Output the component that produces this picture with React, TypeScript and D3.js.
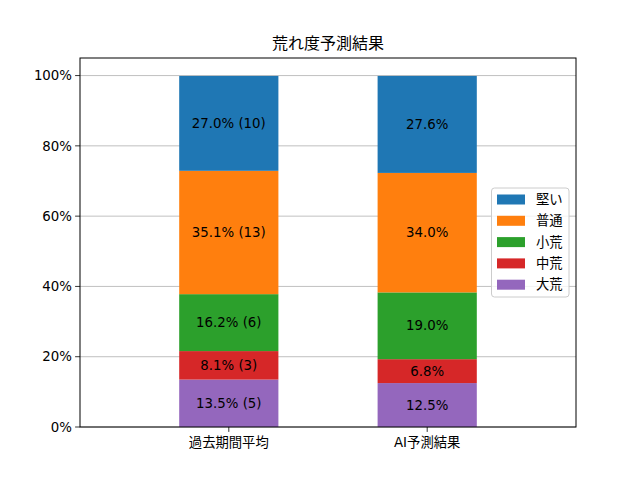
import React from 'react';
import * as d3 from 'd3';

const categories = ['過去期間平均', 'AI予測結果'];
const seriesNames = ['大荒', '中荒', '小荒', '普通', '堅い'];
const colors = ['#9467bd', '#d62728', '#2ca02c', '#ff7f0e', '#1f77b4'];
// percentage per series (bottom to top), per category
const pastPct = [13.5, 8.1, 16.2, 35.1, 27.0];
const pastCount = [5, 3, 6, 13, 10];
const aiPct = [12.5, 6.8, 19.0, 34.0, 27.6];
const yTicks = [0, 20, 40, 60, 80, 100];

const W = 640;
const H = 480;
const left = 80;
const right = 576;
const top = 58;
const bottom = 427;
const font = '"DejaVu Sans", "Noto Sans CJK JP", sans-serif';

const App: React.FC = () => {
  const x = d3.scaleLinear().domain([-0.75, 1.75]).range([left, right]);
  const y = d3.scaleLinear().domain([0, 105]).range([bottom, top]);
  const barW = x(0.5) - x(0);

  const rows = categories.map((c, i) => ({
    cat: c,
    pct: i === 0 ? pastPct : aiPct,
    counts: i === 0 ? pastCount : null,
  }));

  return (
    <svg width={W} height={H} style={{ position: 'absolute', left: 0, top: 0 }} fontFamily={font}>
      <rect width={W} height={H} fill="#fff" />
      {/* grid */}
      {yTicks.map(t => (
        <line key={t} x1={left} x2={right} y1={y(t)} y2={y(t)} stroke="#b0b0b0" strokeWidth={0.8} />
      ))}
      {/* bars */}
      {rows.map((r, ci) => {
        let acc = 0;
        return (
          <g key={r.cat}>
            {r.pct.map((v, si) => {
              const y0 = acc;
              acc += v;
              const label = r.counts ? `${v.toFixed(1)}% (${r.counts[si]})` : `${v.toFixed(1)}%`;
              return (
                <g key={si}>
                  <rect x={x(ci) - barW / 2} y={y(y0 + v)} width={barW} height={y(y0) - y(y0 + v)} fill={colors[si]} />
                  <text x={x(ci)} y={y(y0 + v / 2)} dy="0.35em" textAnchor="middle" fontSize={13.33} fill="#000">{label}</text>
                </g>
              );
            })}
          </g>
        );
      })}
      {/* axes frame */}
      <rect x={left} y={top} width={right - left} height={bottom - top} fill="none" stroke="#000" strokeWidth={1} />
      {/* y ticks */}
      {yTicks.map(t => (
        <g key={t}>
          <line x1={left - 4.9} x2={left} y1={y(t)} y2={y(t)} stroke="#000" strokeWidth={0.8} />
          <text x={left - 8} y={y(t)} dy="0.35em" textAnchor="end" fontSize={13.33}>{t}%</text>
        </g>
      ))}
      {/* x ticks */}
      {categories.map((c, i) => (
        <g key={c}>
          <line x1={x(i)} x2={x(i)} y1={bottom} y2={bottom + 4.9} stroke="#000" strokeWidth={0.8} />
          <text x={x(i)} y={bottom + 20} textAnchor="middle" fontSize={13.33}>{c}</text>
        </g>
      ))}
      {/* title */}
      <text x={(left + right) / 2} y={top - 9} textAnchor="middle" fontSize={16}>荒れ度予測結果</text>
      {/* legend */}
      <g>
        <rect x={491.5} y={188} width={77.5} height={109} rx={3} fill="#fff" fillOpacity={0.8} stroke="#cccccc" />
        {seriesNames.slice().reverse().map((s, k) => {
          const si = seriesNames.length - 1 - k;
          const cy = 199.5 + k * 21.3;
          return (
            <g key={s}>
              <rect x={497} y={cy - 5} width={28} height={10} fill={colors[si]} />
              <text x={536} y={cy} dy="0.35em" fontSize={13.33}>{s}</text>
            </g>
          );
        })}
      </g>
    </svg>
  );
};

export default App;
